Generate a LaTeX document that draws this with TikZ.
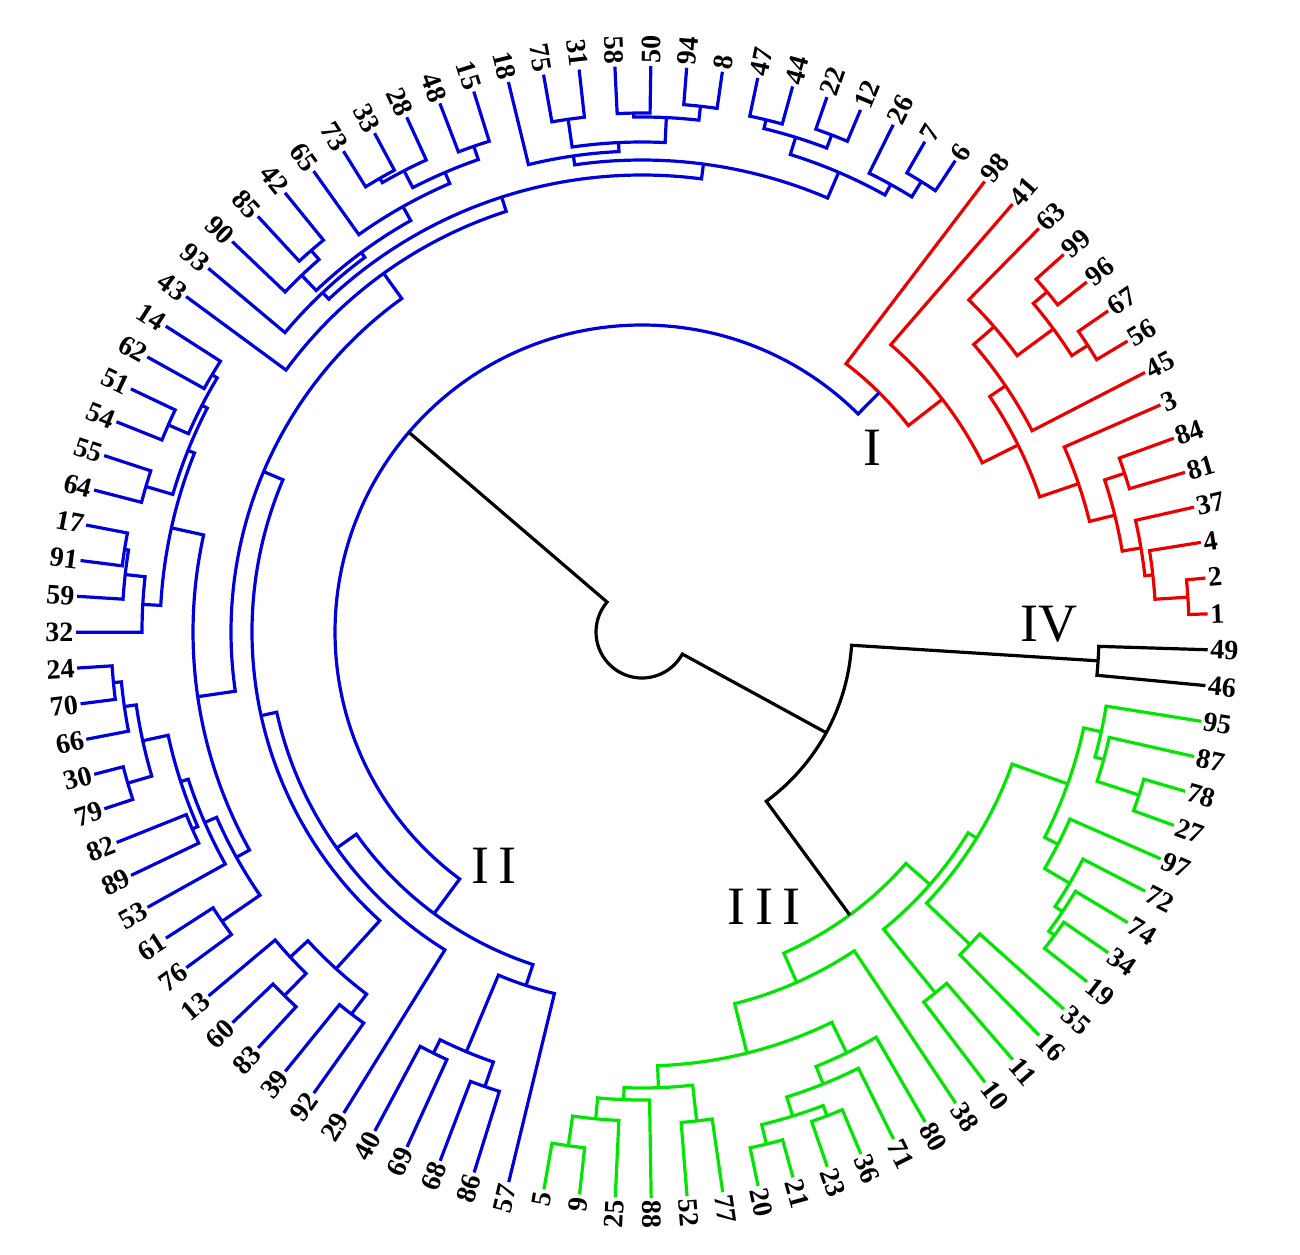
\documentclass[tikz,border=0pt]{standalone}
\usepackage{fontspec}
\setmainfont{Liberation Serif}
\definecolor{cR}{RGB}{235,0,0}
\definecolor{cB}{RGB}{0,0,220}
\definecolor{cG}{RGB}{0,230,0}
\tikzset{
  lab/.style={font=\fontsize{28}{28}\selectfont\bfseries, inner sep=0.5pt},
  rom/.style={font=\fontsize{54}{54}\selectfont, inner sep=0pt},
  tree/.style={line width=3.2pt}
}
\newcommand\lf[2]{%
  \pgfmathsetmacro\myAng{-1.8+3.636364*#2}%
  \expandafter\xdef\csname A@#1\endcsname{\myAng}%
  \expandafter\xdef\csname R@#1\endcsname{566}%
  \coordinate (L#1) at (\myAng:566pt);
  \ifdim\myAng pt>90pt\relax
    \ifdim\myAng pt<270pt\relax
      \node[lab,anchor=east,rotate=\myAng-180] (lab#1) at (\myAng:568pt) {#1};
    \else
      \node[lab,anchor=west,rotate=\myAng] (lab#1) at (\myAng:568pt) {#1};
    \fi
  \else
    \node[lab,anchor=west,rotate=\myAng] (lab#1) at (\myAng:568pt) {#1};
  \fi
}
\newcommand\jn[5]{%
  \edef\myA{\csname A@#2\endcsname}%
  \edef\myB{\csname A@#3\endcsname}%
  \edef\myRA{\csname R@#2\endcsname}%
  \edef\myRB{\csname R@#3\endcsname}%
  \pgfmathsetmacro\myM{(\myA+\myB)/2}%
  \expandafter\xdef\csname A@#1\endcsname{\myM}%
  \expandafter\xdef\csname R@#1\endcsname{#4}%
  \draw[tree,#5] (\myA:\myRA pt) -- (\myA:#4pt) arc[start angle=\myA,end angle=\myB,radius=#4pt] -- (\myB:\myRB pt);
  \coordinate (#1) at (\myM:#4pt);
}
\begin{document}
\begin{tikzpicture}
\useasboundingbox (0,0) rectangle (1300pt,1254pt);
\node[rom] (labI) at (872pt,806pt) {I};
\node[rom] (labII) at (494pt,388pt) {I\kern10pt I};
\node[rom] (labIII) at (764pt,347pt) {I\kern10pt I\kern10pt I};
\node[rom] (labIV) at (1049pt,630pt) {IV};
\begin{scope}[shift={(642pt,622pt)}]
\foreach \nm/\k in {1/1,2/2,4/3,37/4,81/5,84/6,3/7,45/8,56/9,67/10,96/11,99/12,63/13,41/14,98/15,
 6/16,7/17,26/18,12/19,22/20,44/21,47/22,8/23,94/24,50/25,58/26,31/27,75/28,18/29,15/30,48/31,28/32,33/33,73/34,65/35,42/36,85/37,90/38,93/39,43/40,
 14/41,62/42,51/43,54/44,55/45,64/46,17/47,91/48,59/49,32/50,24/51,70/52,66/53,30/54,79/55,82/56,89/57,53/58,61/59,76/60,
 13/61,60/62,83/63,39/64,92/65,29/66,40/67,69/68,68/69,86/70,57/71,
 5/72,9/73,25/74,88/75,52/76,77/77,20/78,21/79,23/80,36/81,71/82,80/83,38/84,10/85,11/86,16/87,35/88,19/89,34/90,74/91,72/92,97/93,27/94,78/95,87/96,95/97,46/98,49/99}
 {\lf{\nm}{\k}}
% cluster I (red)
\jn{rA}{1}{2}{547}{cR}
\jn{rB}{rA}{4}{514}{cR}
\jn{rC}{rB}{37}{506}{cR}
\jn{rD}{81}{84}{508}{cR}
\jn{rE}{rC}{rD}{487}{cR}
\jn{rF}{rE}{3}{461}{cR}
\jn{rJ}{56}{67}{530}{cR}
\jn{rH}{96}{99}{529}{cR}
\jn{rK}{rJ}{rH}{511}{cR}
\jn{rL}{rK}{63}{466}{cR}
\jn{rM}{45}{rL}{439}{cR}
\jn{rN}{rF}{rM}{420}{cR}
\jn{rQ}{rN}{41}{380}{cR}
\jn{Iroot}{rQ}{98}{337}{cR}
% cluster III (green)
\jn{ga1}{5}{9}{519}{cG}
\jn{ga2}{ga1}{25}{489}{cG}
\jn{ga3}{ga2}{88}{468}{cG}
\jn{ga4}{52}{77}{492}{cG}
\jn{ga5}{ga3}{ga4}{456}{cG}
\jn{gb1}{20}{21}{527}{cG}
\jn{gb2}{23}{36}{518}{cG}
\jn{gb3}{gb1}{gb2}{507}{cG}
\jn{gb4}{gb3}{71}{487}{cG}
\jn{gb5}{gb4}{80}{468}{cG}
\jn{gc1}{ga5}{gb5}{434}{cG}
\jn{gc2}{gc1}{38}{383}{cG}
\jn{gd1}{10}{11}{465}{cG}
\jn{gd2}{16}{35}{453}{cG}
\jn{gg1}{19}{34}{512}{cG}
\jn{gg2}{gg1}{74}{505}{cG}
\jn{gg3}{gg2}{72}{496}{cG}
\jn{gg4}{gg3}{97}{467}{cG}
\jn{gf1}{27}{78}{523}{cG}
\jn{gf2}{gf1}{87}{479}{cG}
\jn{gf3}{gf2}{95}{470}{cG}
\jn{gf4}{gg4}{gf3}{452}{cG}
\jn{ge1}{gd2}{gf4}{393}{cG}
\jn{ge2}{gd1}{ge1}{383}{cG}
\jn{IIIroot}{gc2}{ge2}{351}{cG}
% cluster II (blue)
\jn{bt1}{6}{7}{530}{cB}
\jn{bt2}{bt1}{26}{512}{cB}
\jn{bu2}{12}{22}{532}{cB}
\jn{bu1}{44}{47}{527}{cB}
\jn{bu3}{bu2}{bu1}{518}{cB}
\jn{bu4}{bt2}{bu3}{500}{cB}
\jn{bw1}{8}{94}{529}{cB}
\jn{bw2}{50}{58}{519}{cB}
\jn{bw3}{bw1}{bw2}{515}{cB}
\jn{bw4}{31}{75}{518}{cB}
\jn{bw5}{bw3}{bw4}{490}{cB}
\jn{bw6}{bw5}{18}{481}{cB}
\jn{bw7}{bu4}{bw6}{472}{cB}
\jn{bz1}{15}{48}{514}{cB}
\jn{bz2}{33}{73}{524}{cB}
\jn{bz3}{28}{bz2}{519}{cB}
\jn{bz4}{bz1}{bz3}{500}{cB}
\jn{bz5}{bz4}{65}{488}{cB}
\jn{by1}{42}{85}{505}{cB}
\jn{by2}{by1}{90}{493}{cB}
\jn{bYp}{bz5}{by2}{472}{cB}
\jn{bY}{bYp}{93}{466}{cB}
\jn{bx1}{bw7}{bY}{457}{cB}
\jn{bx2}{bx1}{43}{442}{cB}
\jn{bp1}{14}{62}{501}{cB}
\jn{bp2}{51}{54}{517}{cB}
\jn{bp3}{bp1}{bp2}{495}{cB}
\jn{bp4}{55}{64}{517}{cB}
\jn{bp5}{bp3}{bp4}{489}{cB}
\jn{bp6}{17}{91}{524}{cB}
\jn{bp7}{bp6}{59}{520}{cB}
\jn{bp8}{bp7}{32}{500}{cB}
\jn{bp9}{bp5}{bp8}{482}{cB}
\jn{bq1}{24}{70}{531}{cB}
\jn{bq2}{bq1}{66}{523}{cB}
\jn{bq3}{30}{79}{536}{cB}
\jn{bq4}{bq2}{bq3}{511}{cB}
\jn{bq6}{82}{89}{491}{cB}
\jn{bq5}{bq4}{bq6}{485}{cB}
\jn{bq11}{bq5}{53}{477}{cB}
\jn{bq8}{61}{76}{510}{cB}
\jn{bq9}{bq11}{bq8}{464}{cB}
\jn{bp10}{bp9}{bq9}{449}{cB}
\jn{bx3}{bx2}{bp10}{411}{cB}
\jn{br1}{60}{83}{510}{cB}
\jn{br2}{13}{br1}{479}{cB}
\jn{br3}{39}{92}{480}{cB}
\jn{br4}{br2}{br3}{455}{cB}
\jn{bx4}{bx3}{br4}{390}{cB}
\jn{bx5}{bx4}{29}{374}{cB}
\jn{bs1}{40}{69}{470}{cB}
\jn{bs2}{68}{86}{481}{cB}
\jn{bs3}{bs1}{bs2}{455}{cB}
\jn{bs4}{bs3}{57}{372}{cB}
\jn{IIroot}{bx5}{bs4}{350}{cB}
\jn{IandII}{Iroot}{IIroot}{307}{cB}
% cluster IV and root (black)
\jn{IV}{46}{49}{457}{black}
\jn{IIIandIV}{IIIroot}{IV}{210}{black}
\jn{root}{IandII}{IIIandIV}{46}{black}
\end{scope}
\end{tikzpicture}
\end{document}
